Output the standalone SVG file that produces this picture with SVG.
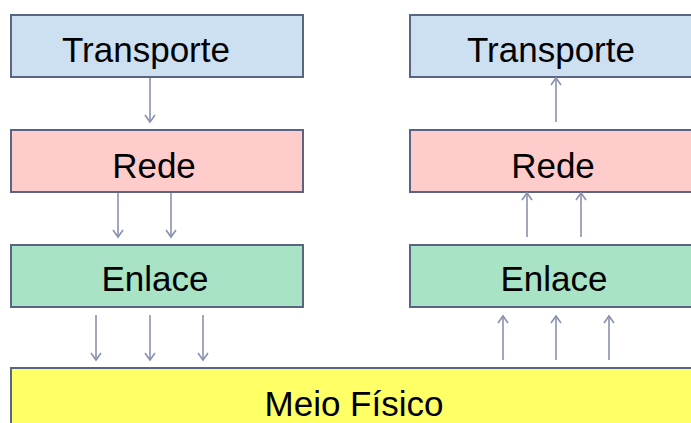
<svg xmlns="http://www.w3.org/2000/svg" width="691" height="423" viewBox="0 0 691 423">
<style>
.box{stroke:#5b6482;stroke-width:2}
.t{fill:#cde0f1}.r{fill:#ffcccc}.e{fill:#a7e3c4}.m{fill:#ffff66}
text{font-family:"Liberation Sans",Arial,sans-serif;font-size:35px;fill:#000;text-anchor:middle}
.c line{stroke:#8a91b0;stroke-width:1.6}
.c path{fill:none;stroke:#8a91b0;stroke-width:1.6}
</style>
<rect width="691" height="423" fill="#fff"/>
<g id="transporte-a"><rect class="box t" x="11" y="15" width="292" height="62"/><text x="146" y="62">Transporte</text></g>
<g id="rede-a"><rect class="box r" x="11" y="130" width="292" height="62"/><text x="154" y="178">Rede</text></g>
<g id="enlace-a"><rect class="box e" x="11" y="245" width="292" height="62"/><text x="155" y="291">Enlace</text></g>
<g id="transporte-b"><rect class="box t" x="410" y="15" width="292" height="62"/><text x="551" y="62">Transporte</text></g>
<g id="rede-b"><rect class="box r" x="410" y="130" width="292" height="62"/><text x="553" y="178">Rede</text></g>
<g id="enlace-b"><rect class="box e" x="410" y="245" width="292" height="62"/><text x="554" y="291">Enlace</text></g>
<g id="meio"><rect class="box m" x="11" y="368" width="700" height="70"/><text x="354" y="416">Meio Físico</text></g>
<g id="connectors" class="c">
<line x1="150" y1="78" x2="150" y2="122"/><path d="M145,115 L150,122 L155,115"/>
<line x1="118" y1="193" x2="118" y2="237"/><path d="M113,230 L118,237 L123,230"/>
<line x1="171" y1="193" x2="171" y2="237"/><path d="M166,230 L171,237 L176,230"/>
<line x1="96" y1="315" x2="96" y2="360"/><path d="M91,353 L96,360 L101,353"/>
<line x1="150" y1="315" x2="150" y2="360"/><path d="M145,353 L150,360 L155,353"/>
<line x1="203" y1="315" x2="203" y2="360"/><path d="M198,353 L203,360 L208,353"/>
<line x1="556" y1="122" x2="556" y2="78"/><path d="M551,85 L556,78 L561,85"/>
<line x1="527" y1="237" x2="527" y2="193"/><path d="M522,200 L527,193 L532,200"/>
<line x1="581" y1="237" x2="581" y2="193"/><path d="M576,200 L581,193 L586,200"/>
<line x1="503" y1="360" x2="503" y2="316"/><path d="M498,323 L503,316 L508,323"/>
<line x1="556" y1="360" x2="556" y2="316"/><path d="M551,323 L556,316 L561,323"/>
<line x1="609" y1="360" x2="609" y2="316"/><path d="M604,323 L609,316 L614,323"/>
</g>
</svg>
